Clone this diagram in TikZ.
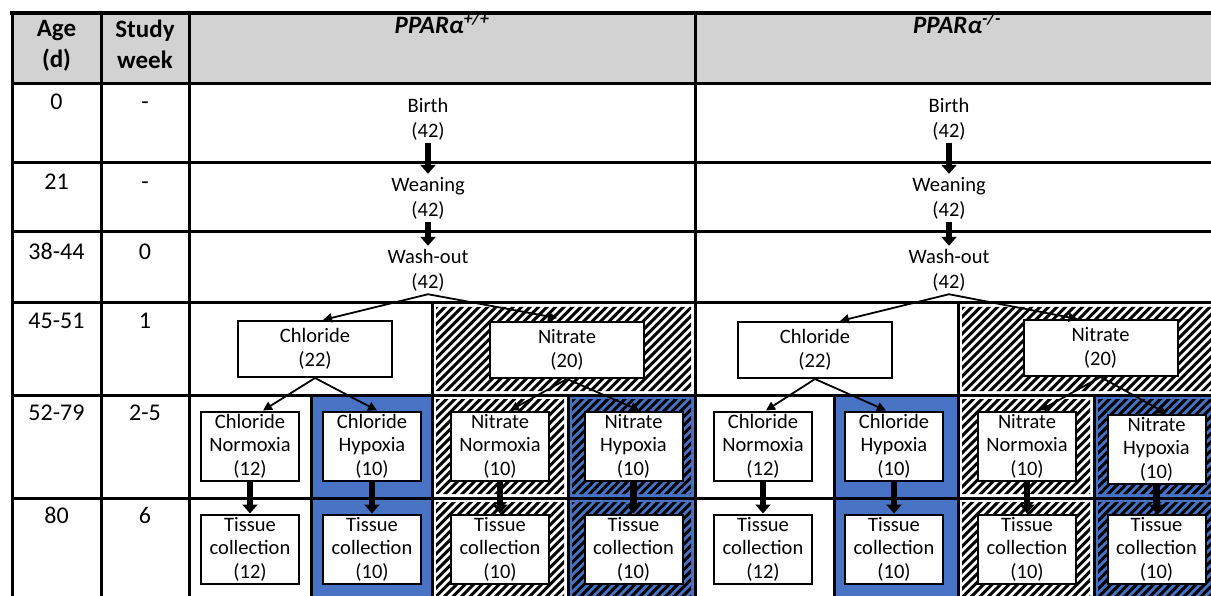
\documentclass[tikz,border=0pt]{standalone}
\usepackage{fontspec}
\setmainfont{Carlito}
\usetikzlibrary{arrows.meta,calc}
\definecolor{hdrgray}{RGB}{210,210,210}
\definecolor{hypblue}{RGB}{72,114,196}
\tikzset{
  gridline/.style={line width=3pt, line cap=rect},
  stripe/.style={line width=3pt, black},
  box/.style={draw, line width=2pt, fill=white, align=center,
    font=\fontsize{20.5}{23.5}\selectfont, inner sep=0pt,
    minimum width=98pt, minimum height=69pt},
  bigbox/.style={box, minimum width=154pt, minimum height=56pt},
  stage/.style={align=center, font=\fontsize{20.5}{25}\selectfont, inner sep=3pt},
  hdr/.style={align=center, anchor=north, inner sep=0pt,
    font=\fontsize{25}{31}\selectfont\bfseries},
  hdrb/.style={anchor=base, inner sep=0pt,
    font=\fontsize{25}{31}\selectfont\bfseries\itshape},
  cellt/.style={anchor=base, inner sep=0pt, font=\fontsize{24}{29}\selectfont},
  bigarr/.style={line width=6.5pt, -{Triangle[length=9pt,width=15pt]}},
  arr/.style={line width=1.8pt, -{Triangle[length=9pt,width=9pt]}}
}
\begin{document}
\begin{tikzpicture}[x=1pt,y=-1pt]
\useasboundingbox (0,0) rectangle (1211,596);
\clip (0,0) rectangle (1211,596);
% header shading
\fill[hdrgray] (12,13) rectangle (1225,84);
% blue (hypoxia) cells
\foreach \a/\b in {311/432,568/695,834/958,1094/1225}
  \fill[hypblue] (\a,395) rectangle (\b,600);
% hatched (nitrate) cells
\begin{scope}
  \clip (436,307) rectangle (691,391)
        (436,399) rectangle (564,494)
        (436,502) rectangle (564,600)
        (572,399) rectangle (691,494)
        (572,502) rectangle (691,600)
        (962,307) rectangle (1225,391)
        (962,399) rectangle (1090,494)
        (962,502) rectangle (1090,600)
        (1098,399) rectangle (1225,494)
        (1098,502) rectangle (1225,600);
  \foreach \k in {-300,-291.5,...,1230}
    \draw[stripe] (\k,610) -- (\k+310,300);
\end{scope}
% grid
\draw[gridline, line width=3.5pt] (12,13) -- (1225,13);
\foreach \y in {84,163,232,303,395,498}
  \draw[gridline] (12,\y) -- (1225,\y);
\foreach \x in {12,101,189,695}
  \draw[gridline] (\x,13) -- (\x,604);
\foreach \x in {432,958}
  \draw[gridline] (\x,303) -- (\x,604);
\foreach \x in {311,568,834,1094}
  \draw[gridline] (\x,395) -- (\x,604);
% header texts
\node[hdr] (hage) at (56.5,20) {Age\\(d)};
\node[hdr] (hweek) at (145,20) {Study\\week};
\node[hdrb] (hwt) at (442,34) {PPARα\textsuperscript{+/+}};
\node[hdrb] (hko) at (957,34) {PPARα\textsuperscript{-/-}};
% left columns
\node[cellt] (a1) at (56.5,110) {0};
\node[cellt] (a2) at (56.5,190) {21};
\node[cellt] (a3) at (56.5,260) {38-44};
\node[cellt] (a4) at (56.5,329) {45-51};
\node[cellt] (a5) at (56.5,420) {52-79};
\node[cellt] (a6) at (56.5,523) {80};
\node[cellt] (s1) at (145,110) {-};
\node[cellt] (s2) at (145,190) {-};
\node[cellt] (s3) at (145,260) {0};
\node[cellt] (s4) at (145,329) {1};
\node[cellt] (s5) at (145,420) {2-5};
\node[cellt] (s6) at (145,523) {6};
% PPARa +/+
\node[stage] (b1) at (428,119) {Birth\\(42)};
\node[stage] (w1) at (428,198) {Weaning\\(42)};
\node[stage] (o1) at (428,270) {Wash-out\\(42)};
\node[bigbox] (c1) at (315,349) {Chloride\\(22)};
\node[bigbox] (n1) at (567,350) {Nitrate\\(20)};
\node[box] (cn1) at (250,446) {Chloride\\Normoxia\\(12)};
\node[box] (ch1) at (372,446) {Chloride\\Hypoxia\\(10)};
\node[box] (nn1) at (500,446) {Nitrate\\Normoxia\\(10)};
\node[box] (nh1) at (633.5,446) {Nitrate\\Hypoxia\\(10)};
\node[box] (tc1) at (250,549) {Tissue\\collection\\(12)};
\node[box] (tc2) at (372,549) {Tissue\\collection\\(10)};
\node[box] (tc3) at (500,549) {Tissue\\collection\\(10)};
\node[box] (tc4) at (633.5,549) {Tissue\\collection\\(10)};
% PPARa -/-
\node[stage] (b2) at (949,119) {Birth\\(42)};
\node[stage] (w2) at (949,198) {Weaning\\(42)};
\node[stage] (o2) at (949,270) {Wash-out\\(42)};
\node[bigbox] (c2) at (815,350) {Chloride\\(22)};
\node[bigbox] (n2) at (1100.5,348) {Nitrate\\(20)};
\node[box] (cn2) at (763,446) {Chloride\\Normoxia\\(12)};
\node[box] (ch2) at (894,446) {Chloride\\Hypoxia\\(10)};
\node[box] (nn2) at (1027,446) {Nitrate\\Normoxia\\(10)};
\node[box] (nh2) at (1156.5,449) {Nitrate\\Hypoxia\\(10)};
\node[box] (tc5) at (763,549) {Tissue\\collection\\(12)};
\node[box] (tc6) at (894,549) {Tissue\\collection\\(10)};
\node[box] (tc7) at (1027,549) {Tissue\\collection\\(10)};
\node[box] (tc8) at (1156.5,549) {Tissue\\collection\\(10)};
% thick arrows
\draw[bigarr] (b1.south) -- (w1.north);
\draw[bigarr] (w1.south) -- (o1.north);
\draw[bigarr] (b2.south) -- (w2.north);
\draw[bigarr] (w2.south) -- (o2.north);
\draw[bigarr] (cn1.south) -- (tc1.north);
\draw[bigarr] (ch1.south) -- (tc2.north);
\draw[bigarr] (nn1.south) -- (tc3.north);
\draw[bigarr] (nh1.south) -- (tc4.north);
\draw[bigarr] (cn2.south) -- (tc5.north);
\draw[bigarr] (ch2.south) -- (tc6.north);
\draw[bigarr] (nn2.south) -- (tc7.north);
\draw[bigarr] (nh2.south) -- (tc8.north);
% thin arrows
\draw[arr] (o1.south) -- ($(c1.north)+(8,0)$);
\draw[arr] (o1.south) -- ($(n1.north)+(-10,-3)$);
\draw[arr] (c1.south) -- ($(cn1.north)+(13,0)$);
\draw[arr] (c1.south) -- ($(ch1.north)+(5,0)$);
\draw[arr] (n1.south) -- ($(nn1.north)+(10,0)$);
\draw[arr] (n1.south) -- ($(nh1.north)+(6,0)$);
\draw[arr] (o2.south) -- ($(c2.north)+(25,0)$);
\draw[arr] (o2.south) -- ($(n2.north)+(-23,0)$);
\draw[arr] (c2.south) -- ($(cn2.north)+(3,0)$);
\draw[arr] (c2.south) -- ($(ch2.north)+(-8,0)$);
\draw[arr] (n2.south) -- ($(nn2.north)+(13,0)$);
\draw[arr] (n2.south) -- ($(nh2.north)+(10,0)$);
\end{tikzpicture}
\end{document}
